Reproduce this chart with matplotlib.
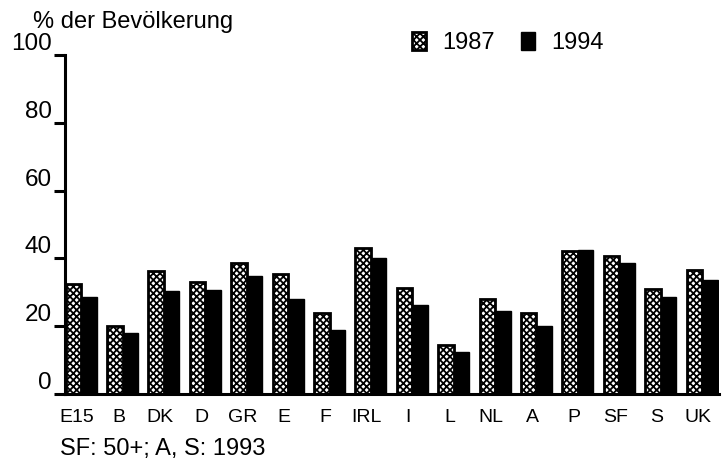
import matplotlib
matplotlib.use("Agg")
import matplotlib.pyplot as plt
import numpy as np

plt.rcParams['font.family'] = ['Liberation Sans', 'DejaVu Sans']
plt.rcParams['hatch.linewidth'] = 1.3

categories = ["E15", "B", "DK", "D", "GR", "E", "F", "IRL", "I", "L",
              "NL", "A", "P", "SF", "S", "UK"]
values_1987 = [32.4, 20.2, 36.4, 32.9, 38.7, 35.5, 23.9, 43.2, 31.4, 14.4,
               28.0, 23.9, 42.2, 40.7, 30.9, 36.6]
values_1994 = [28.5, 18.0, 30.5, 30.7, 34.9, 28.1, 18.9, 40.2, 26.2, 12.3,
               24.4, 20.0, 42.5, 38.6, 28.7, 33.6]
series_labels = ["1987", "1994"]
yticks = [0, 20, 40, 60, 80, 100]

W, H = 724, 463
fig = plt.figure(figsize=(W / 100, H / 100), dpi=100)
ax = fig.add_axes([64.6 / W, 1 - 394 / H, 654 / W, 339 / H])

x = np.arange(len(categories))
bw = 0.375
b1 = ax.bar(x - bw / 2, values_1987, width=bw, facecolor='white',
            edgecolor='black', hatch='xxxxx', linewidth=2.0,
            label=series_labels[0])
b2 = ax.bar(x + bw / 2, values_1994, width=bw, facecolor='black',
            edgecolor='black', linewidth=1.0, label=series_labels[1])

ax.set_xlim(-0.4, len(categories) - 1 + 0.4)
ax.set_ylim(0, 100)

for s in ['top', 'right']:
    ax.spines[s].set_visible(False)
for s in ['left', 'bottom']:
    ax.spines[s].set_linewidth(2.2)

ax.set_yticks(yticks)
ax.set_yticklabels([str(v) for v in yticks], fontsize=17.5)
ax.tick_params(axis='y', length=8, width=2.2, pad=1)
for lab in ax.get_yticklabels():
    lab.set_va('bottom')

ax.set_xticks(x - 0.1)
ax.set_xticklabels(categories, fontsize=14)
ax.tick_params(axis='x', length=0, pad=11)

fig.text(33 / W, 1 - 28 / H, "% der Bevölkerung", fontsize=17,
         ha='left', va='baseline')
fig.text(60 / W, 1 - 455 / H, "SF: 50+; A, S: 1993", fontsize=17,
         ha='left', va='baseline')

leg = fig.legend(handles=[b1, b2], labels=series_labels, ncol=2,
                 loc='upper left', bbox_to_anchor=(395 / W, 1 - 15 / H),
                 frameon=False, fontsize=17, handlelength=0.6,
                 handleheight=0.85, handletextpad=0.7, columnspacing=1.1,
                 borderpad=0.2)

fig.savefig("out.png", dpi=100)
